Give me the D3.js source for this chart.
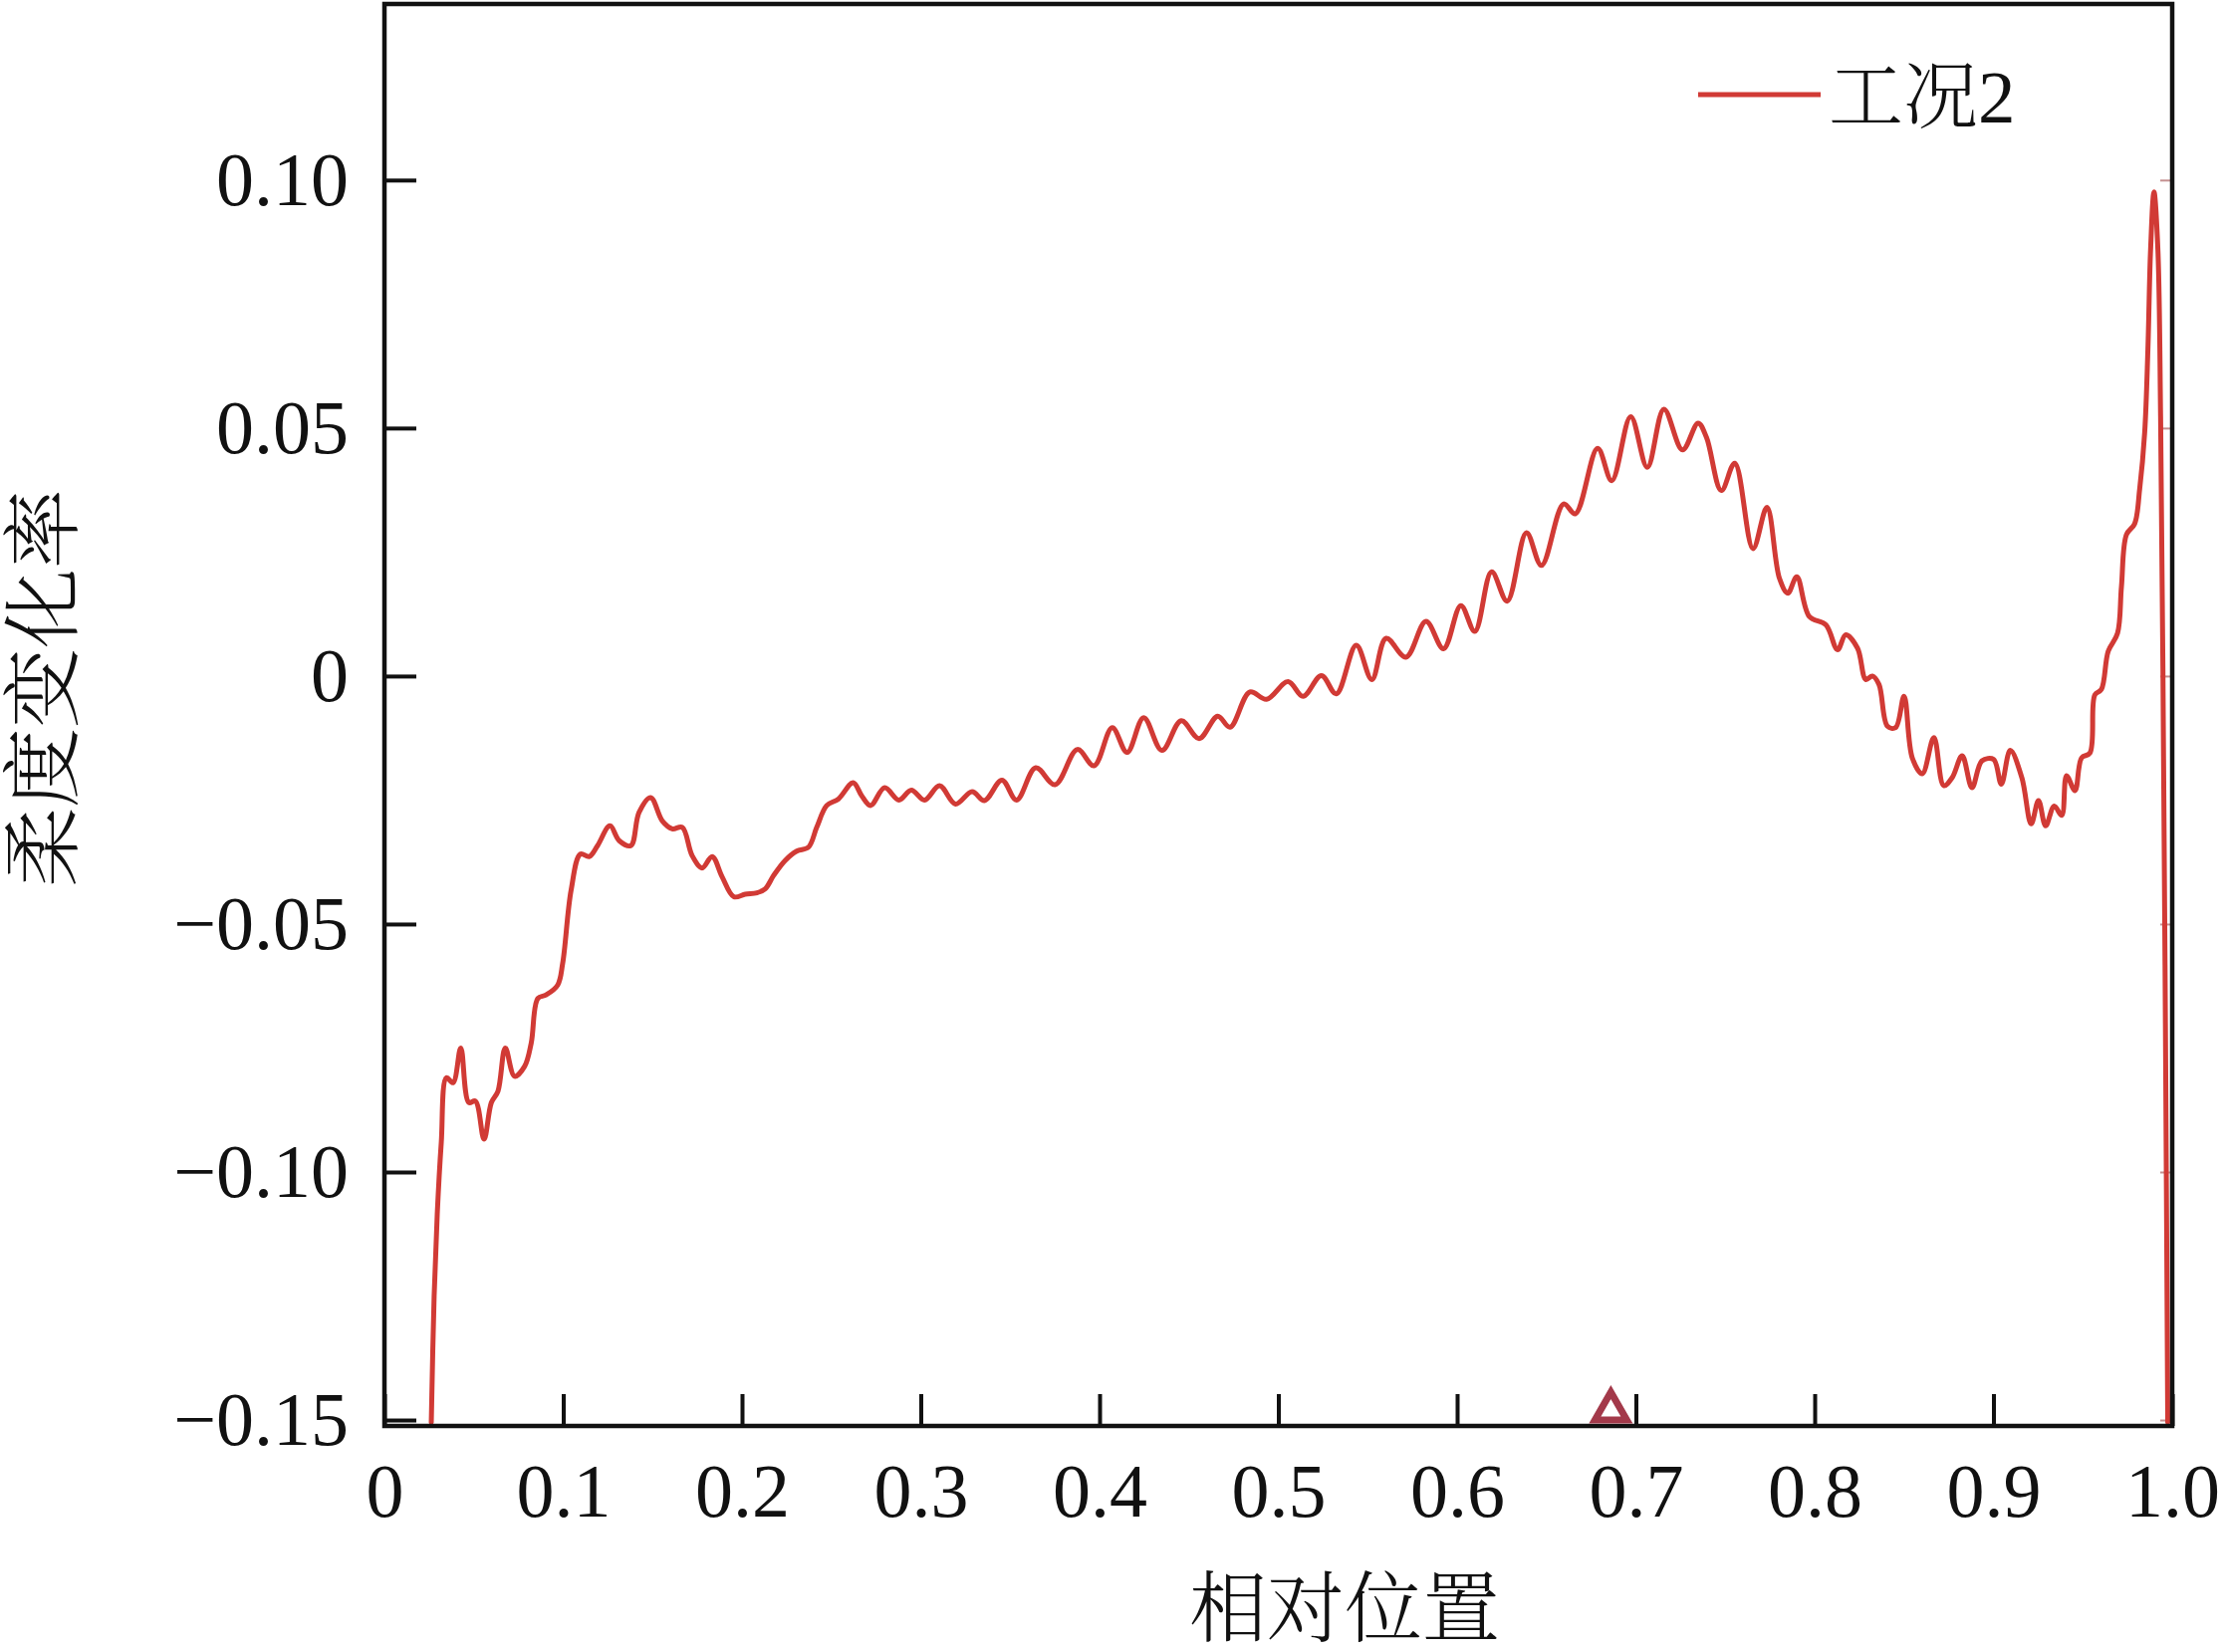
<!DOCTYPE html>
<html>
<head>
<meta charset="utf-8">
<script src="https://cdn.jsdelivr.net/npm/d3@7"></script>
<style>
  html, body { margin: 0; padding: 0; background: #ffffff; }
  svg { display: block; }
</style>
</head>
<body>
<svg id="chart" width="2234" height="1659"></svg>
<script>
// ---- data ----
const seriesName = "工况2";
const xAxisTitle = "相对位置";
const yAxisTitle = "柔度变化率";

const position = [
  0.0262, 0.0278, 0.0296, 0.0318, 0.0347, 0.0384, 0.0427, 0.0472, 0.0509, 0.0557,
  0.0598, 0.0635, 0.0676, 0.0728, 0.0784, 0.0821, 0.0858, 0.0904, 0.0969, 0.0997,
  0.1044, 0.1096, 0.1146, 0.1192, 0.1261, 0.1313, 0.1378, 0.1424, 0.1489, 0.1554,
  0.1610, 0.1666, 0.1721, 0.1777, 0.1833, 0.1889, 0.1954, 0.2018, 0.2084, 0.2130,
  0.2177, 0.2241, 0.2306, 0.2372, 0.2418, 0.2474, 0.2539, 0.2622, 0.2669, 0.2719,
  0.2798, 0.2878, 0.2947, 0.3021, 0.3105, 0.3194, 0.3287, 0.3356, 0.3454, 0.3536,
  0.3643, 0.3751, 0.3876, 0.3969, 0.4071, 0.4154, 0.4247, 0.4349, 0.4457, 0.4557,
  0.4661, 0.4730, 0.4841, 0.4934, 0.5055, 0.5138, 0.5241, 0.5324, 0.5436, 0.5523,
  0.5603, 0.5714, 0.5826, 0.5924, 0.6021, 0.6099, 0.6193, 0.6280, 0.6388, 0.6472,
  0.6596, 0.6661, 0.6786, 0.6865, 0.6971, 0.7064, 0.7157, 0.7261, 0.7348, 0.7395,
  0.7478, 0.7553, 0.7655, 0.7733, 0.7803, 0.7850, 0.7900, 0.7970, 0.8063, 0.8128,
  0.8174, 0.8240, 0.8286, 0.8323, 0.8360, 0.8407, 0.8453, 0.8500, 0.8546, 0.8602,
  0.8667, 0.8722, 0.8769, 0.8825, 0.8880, 0.8936, 0.9001, 0.9044, 0.9094, 0.9159,
  0.9211, 0.9252, 0.9292, 0.9340, 0.9382, 0.9409, 0.9456, 0.9493, 0.9540, 0.9567,
  0.9604, 0.9642, 0.9694, 0.9716, 0.9744, 0.9790, 0.9818, 0.9846, 0.9864, 0.9879,
  0.9898, 0.9920, 0.9935, 0.9948, 0.9962, 0.9975
];
const flexChange = [
  -0.1505, -0.125, -0.108, -0.094, -0.081, -0.082, -0.075, -0.086, -0.0857, -0.0934,
  -0.086, -0.0837, -0.075, -0.0807, -0.0787, -0.074, -0.065, -0.0643, -0.0623, -0.0579,
  -0.0432, -0.0359, -0.0364, -0.0342, -0.0302, -0.0332, -0.0342, -0.0275, -0.0245, -0.0292,
  -0.0308, -0.0305, -0.0362, -0.0387, -0.0364, -0.0405, -0.0445, -0.044, -0.0437, -0.0429,
  -0.0402, -0.0372, -0.0353, -0.0345, -0.0305, -0.0261, -0.0248, -0.0215, -0.0241, -0.0261,
  -0.0225, -0.025, -0.023, -0.025, -0.0221, -0.0258, -0.0233, -0.0251, -0.021, -0.025,
  -0.0185, -0.0219, -0.0148, -0.0181, -0.0104, -0.0154, -0.0084, -0.015, -0.009, -0.0126,
  -0.0081, -0.0103, -0.0032, -0.0047, -0.0011, -0.0041, 0.0001, -0.0036, 0.0062, -0.0007,
  0.0076, 0.0038, 0.011, 0.0055, 0.0142, 0.009, 0.021, 0.0151, 0.0289, 0.0223,
  0.0347, 0.0327, 0.0459, 0.0394, 0.0523, 0.0421, 0.0538, 0.0456, 0.051, 0.0481,
  0.0374, 0.0429, 0.0257, 0.034, 0.0197, 0.0167, 0.020, 0.012, 0.0103, 0.0053,
  0.0083, 0.0056, -0.0007, 0.0, -0.0017, -0.0101, -0.0104, -0.0041, -0.0165, -0.0197,
  -0.0124, -0.0221, -0.0205, -0.0161, -0.0225, -0.0171, -0.0168, -0.0218, -0.015, -0.0205,
  -0.0298, -0.0251, -0.0302, -0.0262, -0.0281, -0.0201, -0.0231, -0.0165, -0.0155, -0.0038,
  -0.0027, 0.005, 0.0086, 0.018, 0.0285, 0.0307, 0.0377, 0.0491, 0.0658, 0.0859,
  0.0976, 0.0859, 0.0524, 0.0016, -0.07, -0.1505
];
const damageMarks = [0.686];

const xTickValues = [0, 0.1, 0.2, 0.3, 0.4, 0.5, 0.6, 0.7, 0.8, 0.9, 1.0];
const xTickLabels = ["0", "0.1", "0.2", "0.3", "0.4", "0.5", "0.6", "0.7", "0.8", "0.9", "1.0"];
const yTickValues = [-0.15, -0.10, -0.05, 0, 0.05, 0.10];
const yTickLabels = ["\u22120.15", "\u22120.10", "\u22120.05", "0", "0.05", "0.10"];

// ---- layout ----
const W = 2234, H = 1659;
const plot = { left: 386, right: 2181, top: 4, bottom: 1432 };
const lineColor = "#d13a35";
const markColor = "#a3394a";
const numFont = "'Liberation Serif', 'Times New Roman', serif";
const cjkFont = "'Liberation Serif', 'Noto Serif CJK SC', 'Noto Sans CJK SC', serif";

const svg = d3.select("#chart");
svg.append("rect").attr("width", W).attr("height", H).attr("fill", "#ffffff");

const x = d3.scaleLinear().domain([0, 1]).range([plot.left, plot.right]);
const y = d3.scaleLinear().domain([-0.1512, 0.1355]).range([plot.bottom, plot.top]);

// right-axis faint ticks (under the curve)
svg.append("g")
  .attr("transform", `translate(${plot.right},0)`)
  .call(d3.axisRight(y).tickValues(yTickValues).tickFormat("").tickSizeInner(-12).tickSizeOuter(0))
  .call(g => g.select(".domain").remove())
  .call(g => g.selectAll(".tick line").attr("stroke", "#c49090").attr("stroke-width", 2));

// data line
const data = position.map((p, i) => ({ p: p, v: flexChange[i] }));
const line = d3.line()
  .x(d => x(d.p))
  .y(d => y(d.v))
  .curve(d3.curveCatmullRom.alpha(0.5));

svg.append("path")
  .datum(data)
  .attr("d", line)
  .attr("fill", "none")
  .attr("stroke", lineColor)
  .attr("stroke-width", 5)
  .attr("stroke-linejoin", "round")
  .attr("stroke-linecap", "round");

// y axis (left)
const yAxis = svg.append("g")
  .attr("transform", `translate(${plot.left},0)`)
  .call(d3.axisLeft(y).tickValues(yTickValues)
    .tickFormat((d, i) => yTickLabels[i])
    .tickSizeInner(-32).tickSizeOuter(0).tickPadding(36));
yAxis.select(".domain").remove();
yAxis.selectAll(".tick line").attr("stroke", "#111").attr("stroke-width", 4);
yAxis.selectAll(".tick text")
  .attr("fill", "#111")
  .style("font-family", numFont)
  .style("font-size", "76px");

// x axis (bottom)
const xAxis = svg.append("g")
  .attr("transform", `translate(0,${plot.bottom})`)
  .call(d3.axisBottom(x).tickValues(xTickValues)
    .tickFormat((d, i) => xTickLabels[i])
    .tickSizeInner(-32).tickSizeOuter(0).tickPadding(37));
xAxis.select(".domain").remove();
xAxis.selectAll(".tick line").attr("stroke", "#111").attr("stroke-width", 4);
xAxis.selectAll(".tick text")
  .attr("fill", "#111")
  .style("font-family", numFont)
  .style("font-size", "76px");

// frame
svg.append("rect")
  .attr("x", plot.left).attr("y", plot.top)
  .attr("width", plot.right - plot.left).attr("height", plot.bottom - plot.top)
  .attr("fill", "none").attr("stroke", "#111").attr("stroke-width", 4.5);

// damage marker triangles on the x axis
const tri = d3.line();
svg.append("g").selectAll("path")
  .data(damageMarks)
  .join("path")
  .attr("d", d => tri([[x(d) - 16, plot.bottom - 6], [x(d), plot.bottom - 34], [x(d) + 16, plot.bottom - 6]]) + "Z")
  .attr("fill", "none")
  .attr("stroke", markColor)
  .attr("stroke-width", 7)
  .attr("stroke-linejoin", "miter");

// legend
const legend = svg.append("g");
legend.append("line")
  .attr("x1", 1705).attr("x2", 1828).attr("y1", 95).attr("y2", 95)
  .attr("stroke", lineColor).attr("stroke-width", 5);
legend.append("text")
  .attr("x", 1836).attr("y", 123)
  .attr("fill", "#111")
  .style("font-family", cjkFont)
  .style("font-size", "75px")
  .style("font-weight", 300)
  .text(seriesName);

// axis titles
svg.append("text")
  .attr("x", 1350).attr("y", 1643)
  .attr("text-anchor", "middle")
  .attr("fill", "#111")
  .style("font-family", cjkFont)
  .style("font-size", "78px")
  .style("font-weight", 300)
  .text(xAxisTitle);

svg.append("text")
  .attr("transform", "translate(71,691) rotate(-90)")
  .attr("text-anchor", "middle")
  .attr("fill", "#111")
  .style("font-family", cjkFont)
  .style("font-size", "80px")
  .style("font-weight", 300)
  .text(yAxisTitle);
</script>
</body>
</html>
